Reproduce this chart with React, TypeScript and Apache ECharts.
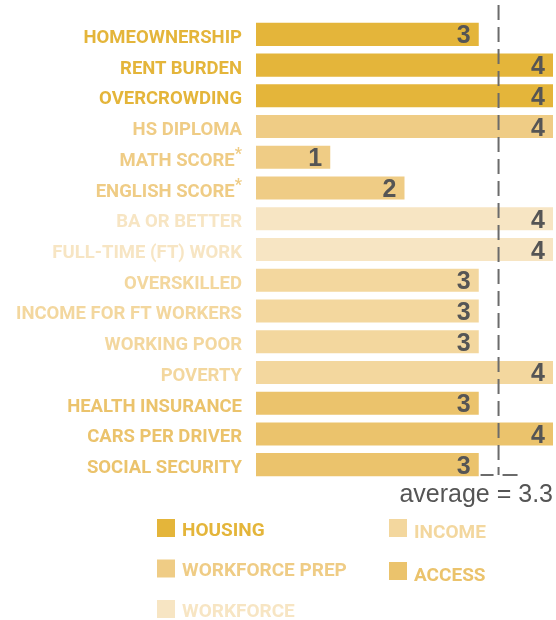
import React, { useEffect, useRef } from "react";
import * as echarts from "echarts";

const categories = [
  "HOMEOWNERSHIP",
  "RENT BURDEN",
  "OVERCROWDING",
  "HS DIPLOMA",
  "MATH SCORE*",
  "ENGLISH SCORE*",
  "BA OR BETTER",
  "FULL-TIME (FT) WORK",
  "OVERSKILLED",
  "INCOME FOR FT WORKERS",
  "WORKING POOR",
  "POVERTY",
  "HEALTH INSURANCE",
  "CARS PER DRIVER",
  "SOCIAL SECURITY",
];
const scores = [3, 4, 4, 4, 1, 2, 4, 4, 3, 3, 3, 4, 3, 4, 3];
const categoryGroup = [
  "HOUSING",
  "HOUSING",
  "HOUSING",
  "WORKFORCE PREP",
  "WORKFORCE PREP",
  "WORKFORCE PREP",
  "WORKFORCE",
  "WORKFORCE",
  "INCOME",
  "INCOME",
  "INCOME",
  "INCOME",
  "ACCESS",
  "ACCESS",
  "ACCESS",
];
const groups = ["HOUSING", "WORKFORCE PREP", "WORKFORCE", "INCOME", "ACCESS"];
const groupColors = ["#E4B53A", "#EFCC85", "#F7E5C3", "#F3D79E", "#EBC36C"];
const legendLeftCol = ["HOUSING", "WORKFORCE PREP", "WORKFORCE"];
const legendRightCol = ["INCOME", "ACCESS"];
const scaleMax = 4;

const colorOf = (g: string) => groupColors[groups.indexOf(g)];

export default function App() {
  const ref = useRef<HTMLDivElement>(null);
  useEffect(() => {
    if (!ref.current) return;
    const chart = echarts.init(ref.current, undefined, { renderer: "svg" });
    const avg = scores.reduce((a, b) => a + b, 0) / scores.length;
    const labelFont = "Roboto";

    const series = groups.map((g) => ({
      name: g,
      type: "bar",
      stack: "total",
      barWidth: "75%",
      itemStyle: { color: colorOf(g) },
      data: scores.map((v, i) => (categoryGroup[i] === g ? v : "-")),
      label: {
        show: true,
        position: "insideRight",
        distance: 8,
        color: "#555555",
        fontSize: 25,
        fontWeight: "bold",
        fontFamily: "Liberation Sans",
      },
    }));

    const legendItem = (g: string) => ({
      name: g,
      icon: "rect",
      textStyle: { color: colorOf(g) },
    });

    const legendBase = {
      orient: "vertical",
      itemWidth: 18,
      itemHeight: 18,
      itemGap: 21,
      padding: 0,
      height: 200,
      selectedMode: false,
    };

    chart.setOption({
      animation: false,
      grid: { left: 256, right: 3, top: 19, height: 461, containLabel: false },
      xAxis: {
        type: "value",
        min: 0,
        max: scaleMax,
        show: false,
      },
      yAxis: {
        type: "category",
        inverse: true,
        data: categories,
        axisLine: { show: false },
        axisTick: { show: false },
        axisLabel: {
          margin: 14,
          fontFamily: labelFont,
          fontWeight: "bold",
          fontSize: 18.5,
          color: (_v: string, i: number) => colorOf(categoryGroup[i]),
          formatter: (v: string) =>
            v.endsWith("*") ? `{a|${v.slice(0, -1)}}{s|*}` : `{a|${v}}`,
          rich: {
            a: {
              fontFamily: labelFont,
              fontWeight: "bold",
              fontSize: 18.5,
              padding: [5, 0, 0, 0],
            },
            s: {
              fontFamily: labelFont,
              fontWeight: "bold",
              fontSize: 16,
              verticalAlign: "top",
              padding: [0, 0, 6, 0],
            },
          },
        },
      },
      legend: [
        {
          ...legendBase,
          left: 157,
          top: 519,
          data: legendLeftCol.map(legendItem),
          formatter: "{t|{name}}",
          textStyle: {
            fontFamily: labelFont,
            fontWeight: "bold",
            fontSize: 19,
            padding: [0, 0, 0, 2],
            rich: {
              t: { fontFamily: labelFont, fontWeight: "bold", fontSize: 19, padding: [2, 0, 0, 0] },
            },
          },
        },
        {
          ...legendBase,
          left: 389,
          top: 519,
          data: legendRightCol.map(legendItem),
          formatter: "{t|{name}}",
          textStyle: {
            fontFamily: labelFont,
            fontWeight: "bold",
            fontSize: 19,
            padding: [0, 0, 0, 2],
            rich: {
              t: { fontFamily: labelFont, fontWeight: "bold", fontSize: 19, padding: [7, 0, 0, 0] },
            },
          },
        },
      ],
      series,
    });

    const px = chart.convertToPixel({ gridIndex: 0 }, [avg, 0]) as number[];
    const x = px[0];
    const lineStyle = { stroke: "#6b6b6b", lineWidth: 2 };
    chart.setOption({
      graphic: [
        {
          type: "line",
          shape: { x1: x, y1: 5, x2: x, y2: 475 },
          style: { ...lineStyle, lineDash: [15, 7] },
          z: 100,
        },
        {
          type: "line",
          shape: { x1: x - 18, y1: 475, x2: x - 5, y2: 475 },
          style: lineStyle,
          z: 100,
        },
        {
          type: "line",
          shape: { x1: x + 4, y1: 475, x2: x + 19, y2: 475 },
          style: lineStyle,
          z: 100,
        },
        {
          type: "text",
          right: 3,
          top: 480,
          style: {
            text: `average = ${avg.toFixed(1)}`,
            fill: "#555555",
            fontSize: 25,
            fontFamily: "Liberation Sans",
          },
        },
      ],
    });

    return () => chart.dispose();
  }, []);
  return (
    <div
      ref={ref}
      style={{ position: "fixed", left: 0, top: 0, width: 556, height: 620 }}
    />
  );
}
